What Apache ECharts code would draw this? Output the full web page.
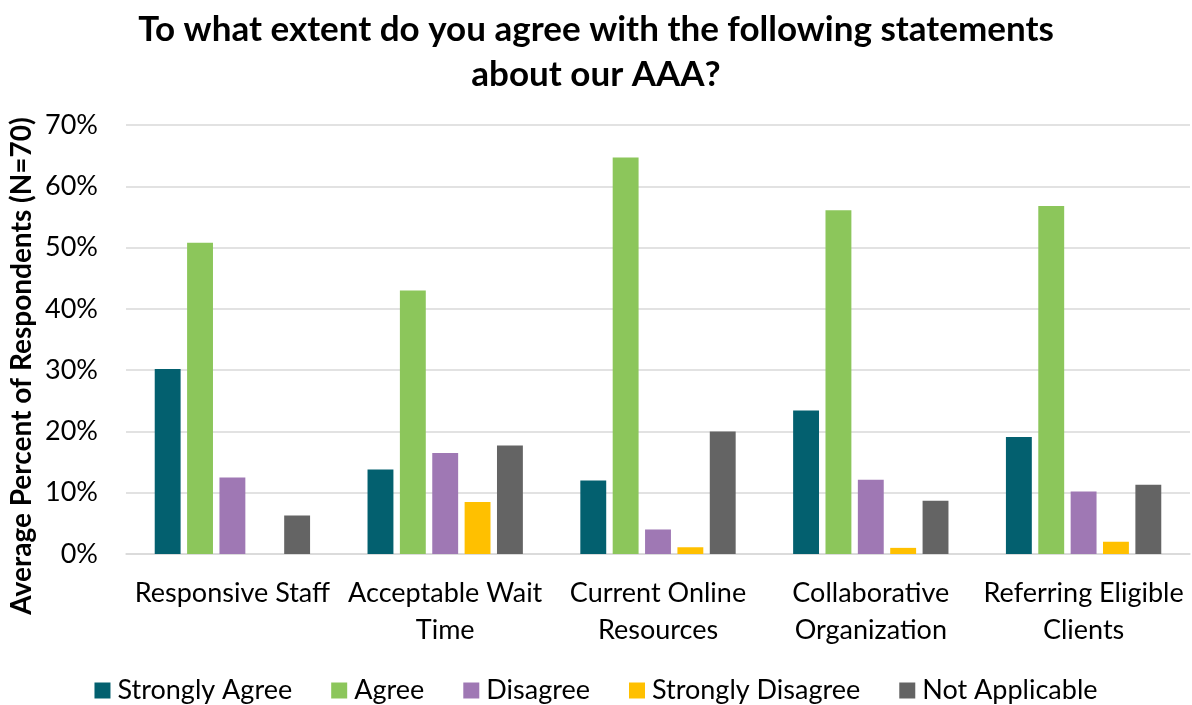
<!DOCTYPE html>
<html>
<head>
<meta charset="utf-8">
<script src="https://cdn.jsdelivr.net/npm/echarts@6/dist/echarts.min.js"></script>
<style>
  html, body { margin: 0; padding: 0; background: #ffffff; }
  #chart { width: 1192px; height: 705px; }
</style>
</head>
<body>
<div id="chart"></div>
<script>
// Survey statements (x-axis categories)
const categories = [
  'Responsive Staff',
  'Acceptable Wait\nTime',
  'Current Online\nResources',
  'Collaborative\nOrganization',
  'Referring Eligible\nClients'
];

// Average percent of respondents per answer
const stronglyAgree    = [30.2, 13.8, 12.0, 23.4, 19.1];
const agree            = [50.8, 43.0, 64.7, 56.1, 56.8];
const disagree         = [12.5, 16.5, 4.0, 12.1, 10.2];
const stronglyDisagree = [0, 8.5, 1.1, 1.0, 2.0];
const notApplicable    = [6.3, 17.7, 20.0, 8.7, 11.3];

const seriesNames  = ['Strongly Agree', 'Agree', 'Disagree', 'Strongly Disagree', 'Not Applicable'];
const seriesColors = ['#03606F', '#8CC65B', '#9F78B4', '#FFC000', '#646464'];
const seriesData   = [stronglyAgree, agree, disagree, stronglyDisagree, notApplicable];

const yTicks = [0, 10, 20, 30, 40, 50, 60, 70];

const FONT = 'Lato, "Open Sans", sans-serif';

const chart = echarts.init(document.getElementById('chart'), null, { renderer: 'canvas' });

chart.setOption({
  backgroundColor: '#ffffff',
  animation: false,
  textStyle: { fontFamily: FONT, color: '#000000' },
  title: {
    text: 'To what extent do you agree with the following statements\nabout our AAA?',
    left: 'center',
    top: 2,
    textStyle: {
      fontFamily: FONT,
      fontSize: 35,
      fontWeight: 'bold',
      color: '#000000',
      lineHeight: 45,
      align: 'center'
    }
  },
  legend: {
    data: seriesNames,
    left: 'center',
    top: 672,
    icon: 'rect',
    itemWidth: 16,
    itemHeight: 16,
    itemGap: 39,
    textStyle: { fontFamily: FONT, fontSize: 27, color: '#000000', padding: [0, 0, 0, 2] }
  },
  grid: {
    left: 126,
    right: 2,
    top: 125,
    bottom: 151,
    containLabel: false
  },
  xAxis: {
    type: 'category',
    data: categories,
    axisLine: { show: true, lineStyle: { color: '#D9D9D9', width: 1.5 } },
    axisTick: { show: false },
    axisLabel: {
      fontFamily: FONT,
      fontSize: 27,
      color: '#000000',
      lineHeight: 37,
      margin: 21,
      interval: 0
    }
  },
  yAxis: {
    type: 'value',
    min: yTicks[0],
    max: yTicks[yTicks.length - 1],
    interval: 10,
    axisLine: { show: false },
    axisTick: { show: false },
    splitLine: { show: true, lineStyle: { color: '#D9D9D9', width: 1.5 } },
    axisLabel: {
      fontFamily: FONT,
      fontSize: 27,
      color: '#000000',
      margin: 28,
      formatter: '{value}%'
    }
  },
  graphic: [{
    type: 'text',
    rotation: Math.PI / 2,
    x: 22,
    y: 366,
    style: {
      text: 'Average Percent of Respondents (N=70)',
      fontFamily: FONT,
      fontSize: 28,
      fontWeight: 'bold',
      fill: '#000000',
      align: 'center',
      verticalAlign: 'middle'
    }
  }],
  series: seriesNames.map((name, i) => ({
    name: name,
    type: 'bar',
    data: seriesData[i],
    barGap: '25%',
    barCategoryGap: '27%',
    itemStyle: { color: seriesColors[i] }
  }))
});
</script>
</body>
</html>
